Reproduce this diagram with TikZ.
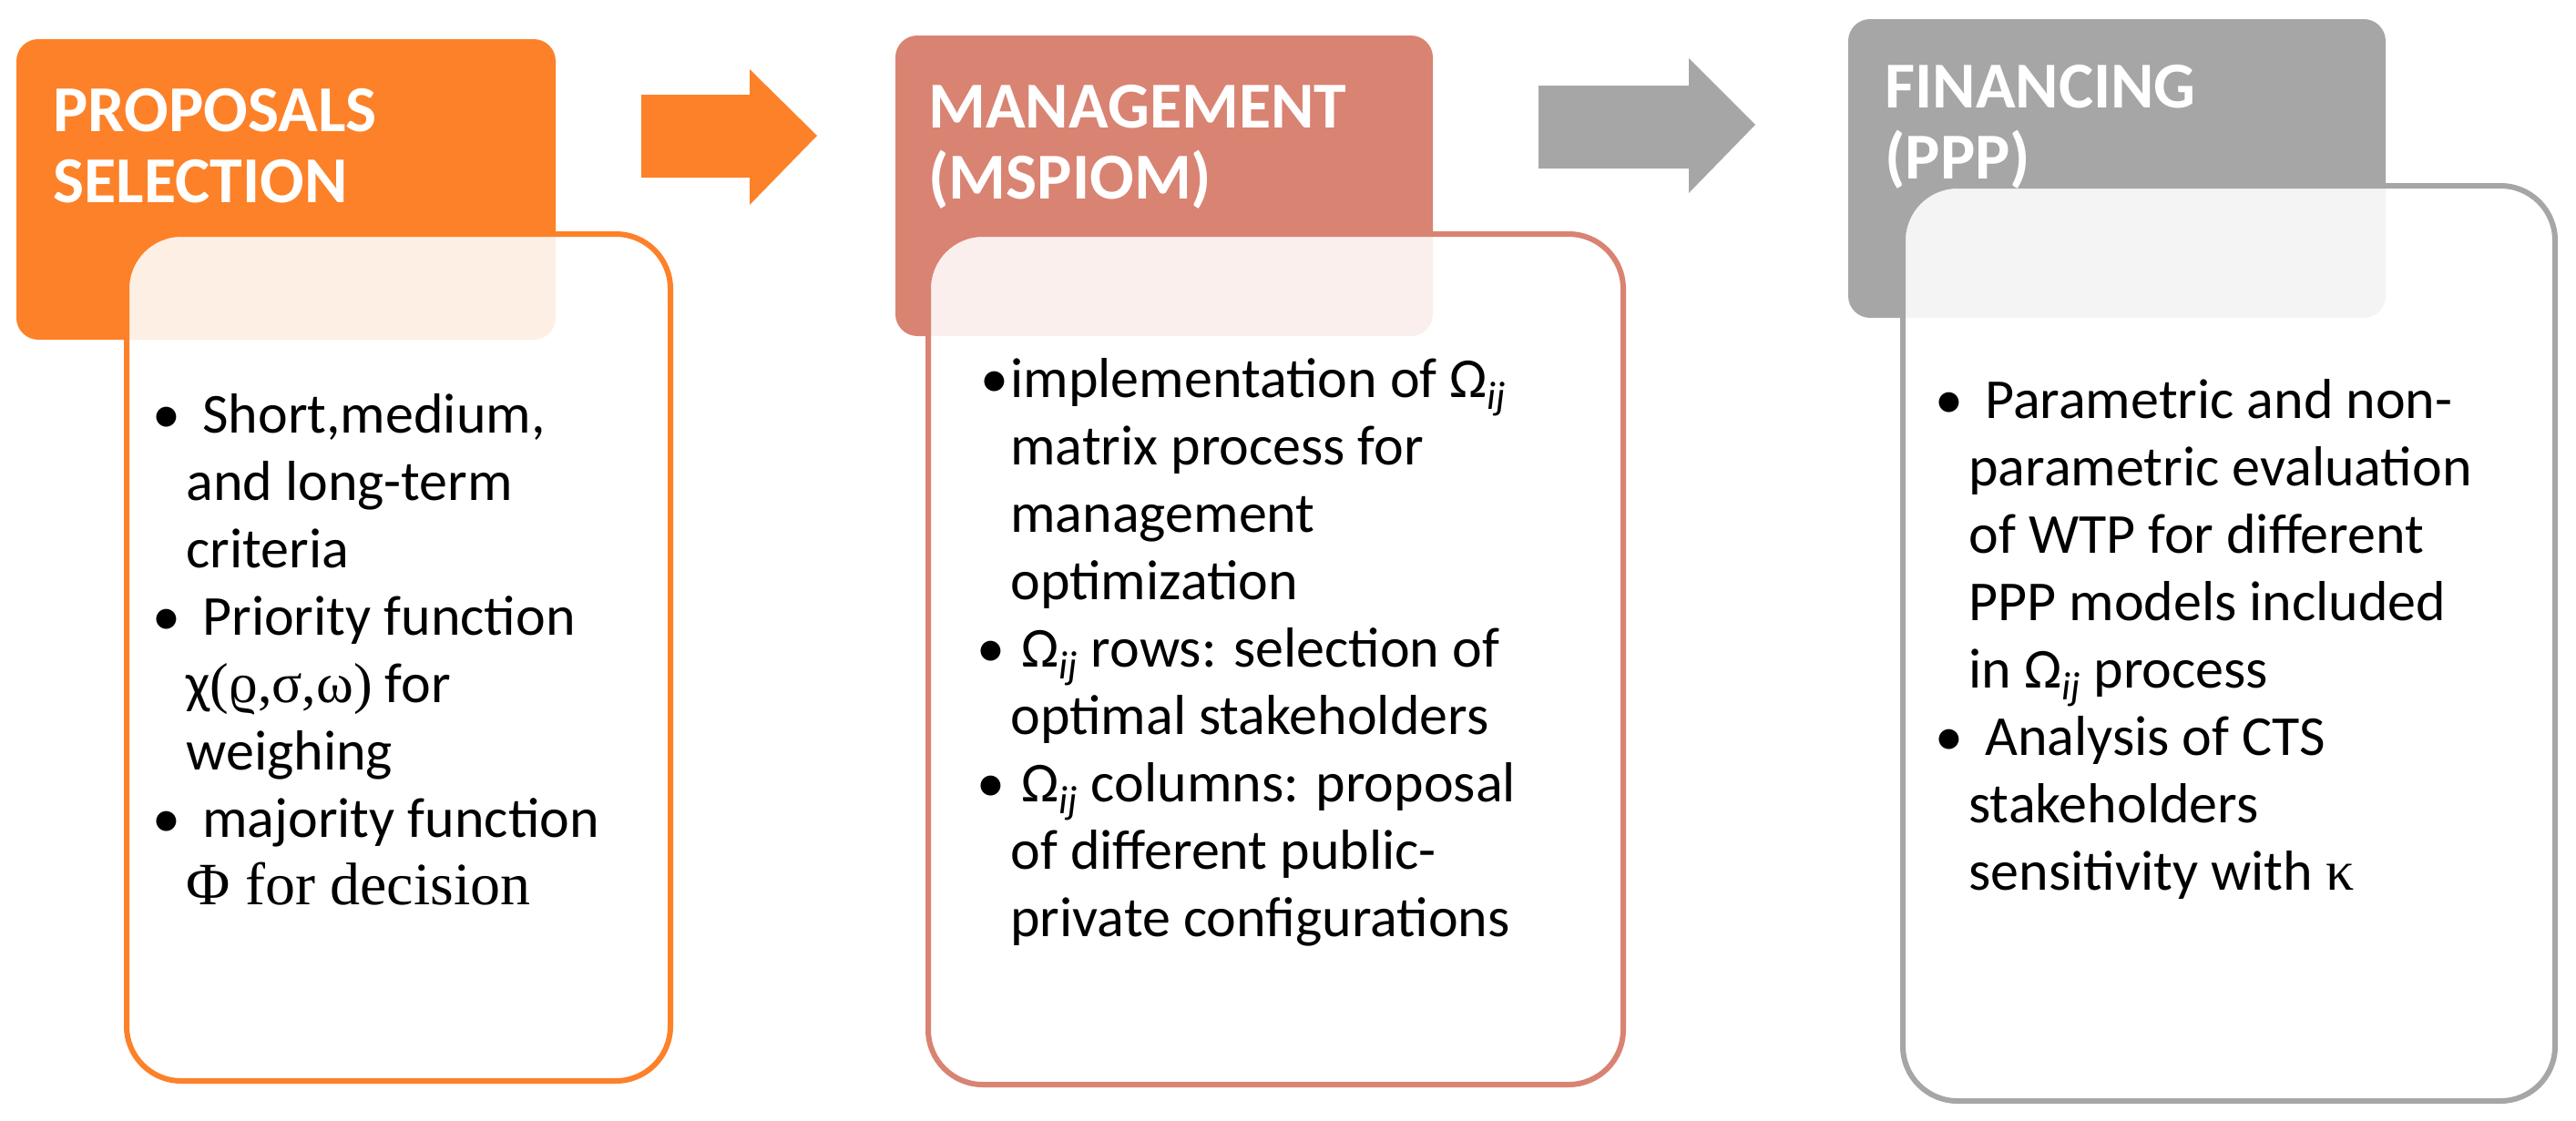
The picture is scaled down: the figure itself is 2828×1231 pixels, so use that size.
\documentclass[tikz,border=0pt]{standalone}
\usepackage{fontspec}
\setmainfont{Carlito}
\newfontfamily\serifgr{Liberation Serif}
\definecolor{orng}{HTML}{FD8128}
\definecolor{salm}{HTML}{D98372}
\definecolor{gry}{HTML}{A6A6A6}
\newcommand{\Oij}{Ω\textsubscript{\itshape ij}}
\tikzset{
  head/.style={rounded corners=12pt, inner sep=0pt, minimum width=#1},
  body/.style={draw, line width=3pt, fill=white, fill opacity=0.88, draw opacity=1, rounded corners=30pt, inner sep=0pt},
  htext/.style={anchor=north west, inner sep=0pt, align=left, text=white, font=\bfseries\fontsize{36}{39}\selectfont},
  btext/.style={anchor=north west, inner sep=0pt, align=left, text=black, font=\fontsize{31}{37}\selectfont},
}
\begin{document}
\begin{tikzpicture}[x=0.5pt,y=-0.5pt]
\useasboundingbox (0,0) rectangle (2828,1231);
% panel 1
\node[head=296pt, minimum height=165pt, fill=orng] (h1) at (314,208) {};
\node[body, draw=orng, minimum width=298.5pt, minimum height=465pt] (b1) at (437.5,722) {};
\node[htext] (t1) at (58,88) {\rule{0pt}{28pt}PROPOSALS\\SELECTION};
\node[btext] (l1) at (204,427) {\rule{0pt}{24pt}\llap{•\hspace{3pt}}\hspace{9pt}Short,medium,\\and long-term\\criteria\\
\llap{•\hspace{3pt}}\hspace{9pt}Priority function\\χ{\serifgr(ϱ,σ,ω)} for\\weighing\\
\llap{•\hspace{3pt}}\hspace{9pt}majority function\\{\serifgr\fontsize{33}{37}\selectfont Φ for decision}};
% arrow 1
\fill[orng] (704,104) -- (823,104) -- (823,76) -- (897,149) -- (823,225) -- (823,195) -- (704,195) -- cycle;
% panel 2
\node[head=295pt, minimum height=165pt, fill=salm] (h2) at (1278,204) {};
\node[body, draw=salm, minimum width=381.5pt, minimum height=467pt] (b2) at (1400.5,724) {};
\node[htext] (t2) at (1019,84) {\rule{0pt}{28pt}MANAGEMENT\\(MSPIOM)};
\node[btext] (l2) at (1109,388) {\rule{0pt}{24pt}\llap{•\hspace{1pt}}implementation of \Oij\\matrix process for\\management\\optimization\\
\llap{•\hspace{3pt}}\hspace{6pt}\Oij{} rows: selection of\\optimal stakeholders\\
\llap{•\hspace{3pt}}\hspace{6pt}\Oij{} columns: proposal\\of different public-\\private configurations};
% arrow 2
\fill[gry] (1689,94) -- (1854,94) -- (1854,64) -- (1927,137) -- (1854,212) -- (1854,185) -- (1689,185) -- cycle;
% panel 3
\node[head=295pt, minimum height=164pt, fill=gry] (h3) at (2324,185) {};
\node[body, draw=gry, minimum width=358pt, minimum height=502.5pt] (b3) at (2447,706.5) {};
\node[htext] (t3) at (2069,62) {\rule{0pt}{28pt}FINANCING\\(PPP)};
\node[btext] (l3) at (2161,411) {\rule{0pt}{24pt}\llap{•\hspace{3pt}}\hspace{9pt}Parametric and non-\\parametric evaluation\\of WTP for different\\PPP models included\\in \Oij{} process\\
\llap{•\hspace{3pt}}\hspace{9pt}Analysis of CTS\\stakeholders\\sensitivity with {\serifgr κ}};
\end{tikzpicture}
\end{document}
